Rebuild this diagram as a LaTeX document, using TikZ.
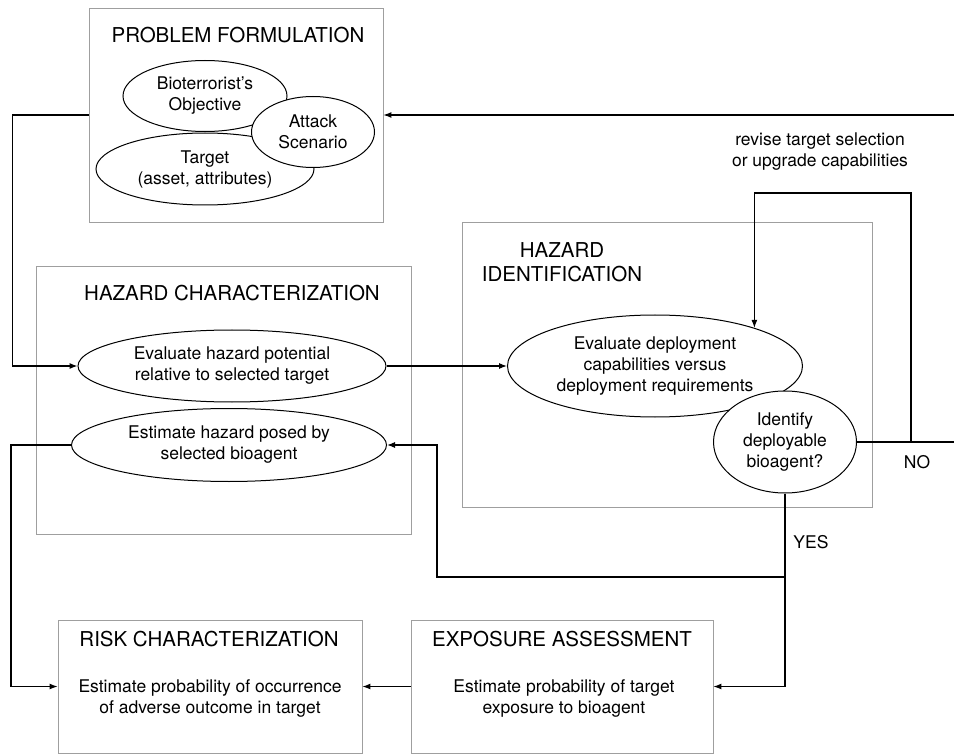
\documentclass[tikz,border=0pt]{standalone}
\usepackage{fontspec}
\setmainfont{TeX Gyre Heros}
\usetikzlibrary{shapes.geometric,arrows.meta}
\newcommand{\bodyfont}{\fontsize{17.5}{21}\selectfont}
\newcommand{\headfont}{\fontsize{20.5}{24}\selectfont}
\begin{document}
\begin{tikzpicture}[x=1pt,y=-1pt,
    panel/.style={draw=gray!75, line width=0.9pt, inner sep=0pt},
    bubble/.style={draw, ellipse, line width=1pt, fill=white, inner sep=0pt, align=center, font=\bodyfont},
    head/.style={font=\headfont, align=center, inner sep=0pt},
    txt/.style={font=\bodyfont, align=center, inner sep=0pt},
    wire/.style={line width=1.1pt},
    arr/.style={line width=1.1pt, -{Latex[length=8pt,width=6pt]}}]
    \useasboundingbox (0,0) rectangle (954,754);

    % panels
    \node[panel, minimum width=294pt, minimum height=214pt] (pf) at (236,115) {};
    \node[panel, minimum width=375pt, minimum height=268pt] (hc) at (223.5,400) {};
    \node[panel, minimum width=410pt, minimum height=285pt] (hi) at (667,364.5) {};
    \node[panel, minimum width=304pt, minimum height=133pt] (risk) at (210,686.5) {};
    \node[panel, minimum width=302pt, minimum height=133pt] (exp) at (562,686.5) {};

    \node[head] (pfhead) at (238,35) {PROBLEM FORMULATION};
    \node[head] (hchead) at (232,293) {HAZARD CHARACTERIZATION};
    \node[head] (hihead) at (562,262) {HAZARD\\IDENTIFICATION};
    \node[head] (riskhead) at (209,639) {RISK CHARACTERIZATION};
    \node[head] (exphead) at (562,639) {EXPOSURE ASSESSMENT};

    % bubbles
    \node[bubble, minimum width=164pt, minimum height=71pt] (obj) at (205,96) {Bioterrorist's\\Objective};
    \node[bubble, minimum width=218pt, minimum height=72pt] (tgt) at (205,169) {Target\\(asset, attributes)};
    \node[bubble, minimum width=123pt, minimum height=71pt] (atk) at (313,132) {Attack\\Scenario};
    \node[bubble, minimum width=308pt, minimum height=72pt] (hpot) at (232,366) {Evaluate hazard potential\\relative to selected target};
    \node[bubble, minimum width=315pt, minimum height=73pt] (ehaz) at (229,445) {Estimate hazard posed by\\selected bioagent};
    \node[bubble, minimum width=295pt, minimum height=102pt] (devl) at (655,366) {Evaluate deployment\\capabilities versus\\deployment requirements};
    \node[bubble, minimum width=143pt, minimum height=102pt] (idb) at (785,442) {Identify\\deployable\\bioagent?};

    \node[txt] (risktxt) at (210,698) {Estimate probability of occurrence\\of adverse outcome in target};
    \node[txt] (exptxt) at (564,698) {Estimate probability of target\\exposure to bioagent};

    \node[txt] (revise) at (820,152) {revise target selection\\or upgrade capabilities};
    \node[txt] (no) at (917,462) {NO};
    \node[txt] (yes) at (811,542) {YES};

    % connectors
    \coordinate (rin) at (954,115);
    \coordinate (rout) at (954,442);
    \coordinate (nb) at (911,442);
    \coordinate (nt) at (911,193);
    \coordinate (yj) at (785,577);
    \coordinate (yk) at (437,577);

    \draw[arr] (rin) -- (pf.east);
    \draw[arr] (pf.west) -- ++(-76,0) |- (hpot.west);
    \draw[arr] (hpot) -- (devl);
    \draw[wire] (idb.east) -- (rout);
    \draw[arr] (nb) -- (nt) -| (devl.21);
    \draw[arr] (idb.south) |- (exp.east);
    \draw[arr] (yj) -- (yk) |- (ehaz.east);
    \draw[arr] (ehaz.west) -- ++(-60,0) |- (risk.west);
    \draw[arr] (exp) -- (risk);
\end{tikzpicture}
\end{document}
